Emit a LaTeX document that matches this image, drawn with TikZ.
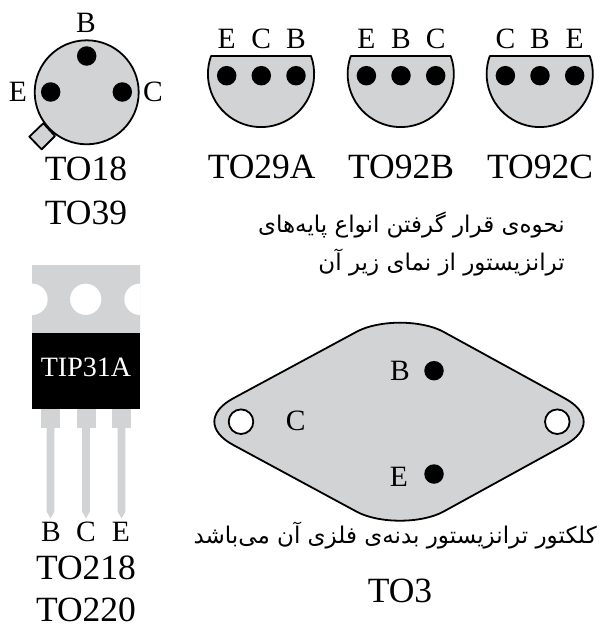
\documentclass[tikz,border=0pt]{standalone}
\usepackage{fontspec}
\setmainfont{Liberation Serif}
\newfontfamily\arabicfont[Script=Arabic]{DejaVu Sans}
\TeXXeTstate=1
\definecolor{bodygray}{HTML}{D1D3D4}
\tikzset{
  x=1pt,y=-1pt,
  lbl/.style={inner sep=0pt,anchor=base,font=\fontsize{29.5}{29.5}\selectfont},
  tiplbl/.style={inner sep=0pt,anchor=base,text=white,font=\fontsize{28}{28}\selectfont},
  captext/.style={inner sep=0pt,anchor=base,font=\fontsize{35.5}{35.5}\selectfont},
  fa/.style={inner sep=0pt,anchor=base east,font=\fontsize{23}{23}\selectfont\arabicfont},
  bodyline/.style={draw=black,line width=1.8pt,fill=bodygray,line join=round},
  pin/.style={circle,fill=black,inner sep=0pt,minimum size=19.5pt}
}
\newcommand{\halfcan}[4]{%
  \begin{scope}[xshift=#1 pt]
    \draw[bodyline] (211,56) -- (311,56) arc[start angle=-19.8,end angle=199.8,radius=53.1] -- cycle;
    \node[pin] at (226.7,75.7) {};
    \node[pin] at (261.3,75.7) {};
    \node[pin] at (296,75.7) {};
    \node[lbl] at (226.7,48.3) {#2};
    \node[lbl] at (261.3,48.3) {#3};
    \node[lbl] at (296,48.3) {#4};
  \end{scope}}
\begin{document}
\begin{tikzpicture}
\useasboundingbox (0,0) rectangle (599,624);
% TO18
\draw[bodyline] (43.3,123.3) -- (29.3,136.7) -- (41.7,149.3) -- (55,136) -- cycle;
\draw[bodyline] (86.7,92.3) circle[radius=52];
\node[pin] (b1) at (86.7,56) {};
\node[pin] (e1) at (50.7,92) {};
\node[pin] (c1) at (122.3,92) {};
\node[lbl] (lb1) at (86,32.7) {B};
\node[lbl] (le1) at (18,101.7) {E};
\node[lbl] (lc1) at (153,101.7) {C};
\node[captext] (to18) at (86,180) {TO18};
\node[captext] (to39) at (86,224) {TO39};
% half cans
\halfcan{0}{E}{C}{B}
\halfcan{139.7}{E}{B}{C}
\halfcan{278.7}{C}{B}{E}
\node[captext] (to29) at (261.7,178.3) {TO29A};
\node[captext] (to92b) at (401,178.3) {TO92B};
\node[captext] (to92c) at (540,178.3) {TO92C};
% Persian
\node[fa] (fa1) at (565,232) {\beginR نحوه‌ی قرار گرفتن انواع پایه‌های\endR};
\node[fa] (fa2) at (565,270) {\beginR ترانزیستور از نمای زیر آن\endR};
\node[fa] (fa3) at (597,543) {\beginR کلکتور ترانزیستور بدنه‌ی فلزی آن می‌باشد\endR};
% TIP31A
\fill[bodygray,even odd rule] (32,265) rectangle (140,333.3)
  (101.4,299.3) arc[start angle=0,end angle=360,radius=15.7];
\fill[white] (32,283.6) arc[start angle=-90,end angle=90,radius=15.7] -- cycle;
\fill[white] (140,283.6) arc[start angle=270,end angle=90,radius=15.7] -- cycle;
\fill[black] (32,333.3) rectangle (140,409);
\node[tiplbl] (tip) at (86,376) {TIP31A};
\foreach \dx in {0,35.5,71}{
  \fill[bodygray] (41+\dx,409) rectangle (60+\dx,427.7);
  \fill[bodygray] (46.7+\dx,427.7) -- (54.3+\dx,427.7) -- (54.3+\dx,511.7) -- (50.5+\dx,518.3) -- (46.7+\dx,511.7) -- cycle;
}
\node[lbl] (lb2) at (51,541.7) {B};
\node[lbl] (lc2) at (86,541.7) {C};
\node[lbl] (le2) at (121,541.7) {E};
\node[captext] (to218) at (86,579) {TO218};
\node[captext] (to220) at (86,621.5) {TO220};
% TO3
\draw[bodyline] (233.3,398.3) -- (356.7,331.7) .. controls (378.9,319.7) and (421.1,319.7) .. (443.3,331.7)
  -- (564.7,398.3) .. controls (590,412) and (590,431.4) .. (564.7,445)
  -- (443.3,511.7) .. controls (421.1,523.7) and (378.9,523.7) .. (356.7,511.7)
  -- (233.3,445) .. controls (208,431.4) and (208,412) .. cycle;
\draw[line width=1.8pt,fill=white] (241,421.7) circle[radius=12.3];
\draw[line width=1.8pt,fill=white] (557.3,421.7) circle[radius=12.3];
\node[pin] (b3) at (434,370.7) {};
\node[pin] (e3) at (434,474) {};
\node[lbl] (lb3) at (400,380) {B};
\node[lbl] (le3) at (399,486) {E};
\node[lbl] (lc3) at (295.7,430) {C};
\node[captext] (to3) at (400,602.7) {TO3};
\end{tikzpicture}
\end{document}
